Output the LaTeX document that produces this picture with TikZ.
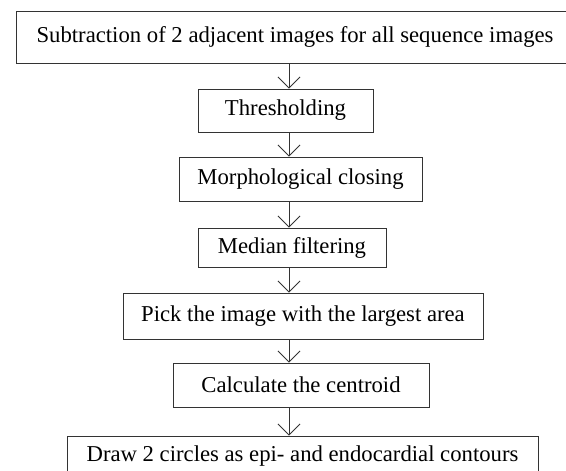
\documentclass[tikz,border=0pt]{standalone}
\usepackage{fontspec}
\setmainfont{Liberation Serif}
\usetikzlibrary{arrows.meta,positioning}

\begin{document}
\begin{tikzpicture}[x=1pt, y=-1pt,
  stage/.style={draw=black!80, line width=0.9pt, inner sep=0pt, font=\fontsize{22.7}{27}\selectfont},
  flow/.style={draw=black!80, line width=0.8pt, -{Straight Barb[length=11pt, width=22pt, line width=0.9pt]}}]
\useasboundingbox (0,0) rectangle (566,471);
% process boxes
\node[stage, minimum width=558pt, minimum height=52pt] (sub) at (295,37) {Subtraction of 2 adjacent images for all sequence images};
\node[stage, minimum width=175pt, minimum height=43pt] (thr) at (285.5,110.5) {Thresholding};
\node[stage, minimum width=243pt, minimum height=44pt] (mor) at (300.5,179) {Morphological closing};
\node[stage, minimum width=188pt, minimum height=39pt] (med) at (292,247.5) {Median filtering};
\node[stage, minimum width=360pt, minimum height=46pt] (pick) at (303,316) {Pick the image with the largest area};
\node[stage, minimum width=256pt, minimum height=44pt] (cen) at (301,385) {Calculate the centroid};
\node[stage, minimum width=471pt, minimum height=40pt] (circ) at (302.5,456) {Draw 2 circles as epi- and endocardial contours};
% arrows
\coordinate (axis) at (289,0);
\foreach \a/\b in {sub/thr, thr/mor, mor/med, med/pick, pick/cen, cen/circ}
  \draw[flow] (\a.south -| axis) -- (\b.north -| axis);
\end{tikzpicture}
\end{document}
